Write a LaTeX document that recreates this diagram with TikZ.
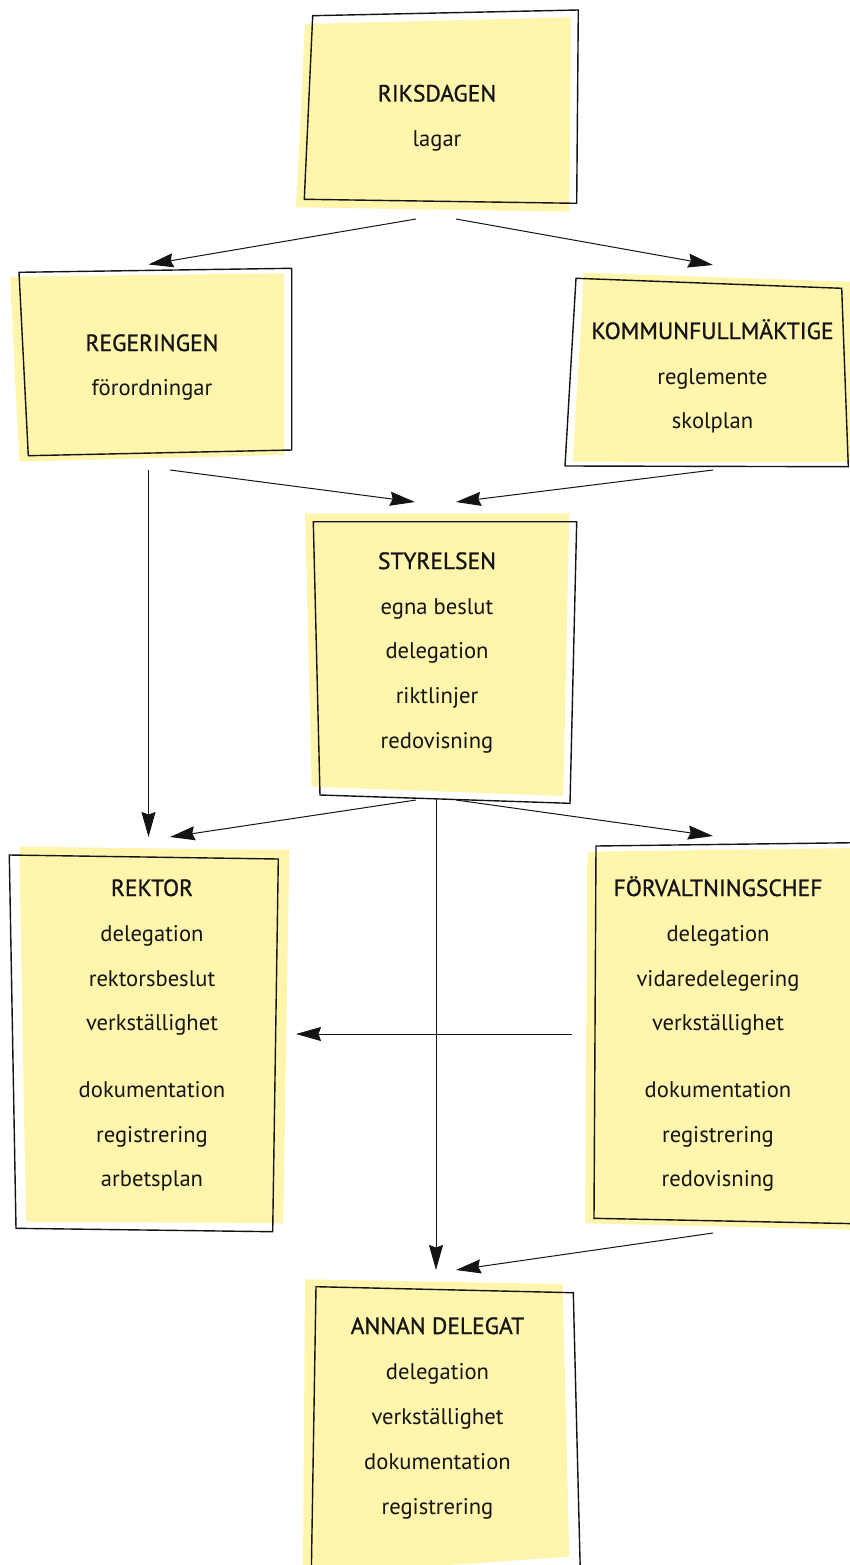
\documentclass[tikz,border=0pt]{standalone}
\usepackage{fontspec}
\setmainfont{PT Sans}
\newfontfamily\titlefont[FakeBold=1]{PT Sans}
\usetikzlibrary{arrows.meta}
\definecolor{paper}{HTML}{FFF5AD}
\definecolor{ink}{HTML}{141414}
\begin{document}
\begin{tikzpicture}[x=1pt,y=-1pt,
  sheet/.style={fill=paper,draw=none},
  frame/.style={draw=ink,line width=1.4pt,line join=miter},
  ttl/.style={anchor=base,font=\titlefont\fontsize{23.5}{28}\selectfont,text=ink,inner sep=0pt},
  txt/.style={anchor=base,font=\fontsize{22.6}{27}\selectfont,text=ink,inner sep=0pt},
  conn/.style={draw=ink,line width=1pt,-{Stealth[length=25pt,width=14pt,inset=2.5pt]}}
]
\useasboundingbox (0,0) rectangle (850,1565);
\clip (0,0) rectangle (850,1565);

% ---- sheets (yellow) ----
\fill[paper] (305,24) -- (571,17.3) -- (569.3,211.7) -- (296,207.3) -- cycle;
\fill[paper] (10,276.7) -- (284,273.3) -- (284,455) -- (19.3,461.7) -- cycle;
\fill[paper] (584,272.7) -- (860,282) -- (860,462) -- (572.7,461.7) -- cycle;
\fill[paper] (305,513.3) -- (569.3,513.3) -- (563.3,796) -- (311.7,786.7) -- cycle;
\fill[paper] (19.3,846.7) -- (289.3,850) -- (283.3,1223.3) -- (26,1221.7) -- cycle;
\fill[paper] (587.3,851.7) -- (860,848) -- (860,1230) -- (585,1223.3) -- cycle;
\fill[paper] (305,1279.3) -- (562.7,1284) -- (569.3,1556.7) -- (303,1575) -- cycle;

% ---- frames ----
\draw[frame] (312.7,15.7) -- (578.3,10) -- (576.7,203.3) -- (304.3,199.3) -- cycle;
\draw[frame] (19,272.3) -- (291.7,268.3) -- (291.7,450) -- (28.3,455.7) -- cycle;
\draw[frame] (576,278.3) -- (841.7,288.3) -- (848.3,466.7) -- (565,466) -- cycle;
\draw[frame] (313.3,521.7) -- (576.7,521.7) -- (570,803.3) -- (320,795) -- cycle;
\draw[frame] (9.3,855) -- (278.3,859) -- (272.7,1231.7) -- (16,1228.3) -- cycle;
\draw[frame] (870,842.5) -- (596,846) -- (594,1218.3) -- (870,1224);
\draw[frame] (311.2,1580) -- (316,1286.7) -- (573.3,1292.7) -- (580.5,1580);

% ---- texts ----
\node[ttl] (rik) at (437,101.5) {RIKSDAGEN};
\node[txt] (rik1) at (437,146.5) {lagar};

\node[ttl] (reg) at (152,351) {REGERINGEN};
\node[txt] (reg1) at (152,395) {förordningar};

\node[ttl] (kom) at (712.5,339) {KOMMUNFULLMÄKTIGE};
\node[txt] (kom1) at (712.5,384) {reglemente};
\node[txt] (kom2) at (712.5,428.5) {skolplan};

\node[ttl] (sty) at (437,569) {STYRELSEN};
\node[txt] (sty1) at (437,614) {egna beslut};
\node[txt] (sty2) at (437,658) {delegation};
\node[txt] (sty3) at (437,703) {riktlinjer};
\node[txt] (sty4) at (437,748) {redovisning};

\node[ttl] (rek) at (152,896) {REKTOR};
\node[txt] (rek1) at (152,941) {delegation};
\node[txt] (rek2) at (152,986) {rektorsbeslut};
\node[txt] (rek3) at (152,1030) {verkställighet};
\node[txt] (rek4) at (152,1097) {dokumentation};
\node[txt] (rek5) at (152,1142) {registrering};
\node[txt] (rek6) at (152,1186) {arbetsplan};

\node[ttl] (for) at (718,896) {FÖRVALTNINGSCHEF};
\node[txt] (for1) at (718,941) {delegation};
\node[txt] (for2) at (718,986) {vidaredelegering};
\node[txt] (for3) at (718,1030) {verkställighet};
\node[txt] (for4) at (718,1097) {dokumentation};
\node[txt] (for5) at (718,1142) {registrering};
\node[txt] (for6) at (718,1186) {redovisning};

\node[ttl] (ann) at (437.5,1334) {ANNAN DELEGAT};
\node[txt] (ann1) at (437.5,1379) {delegation};
\node[txt] (ann2) at (437.5,1424) {verkställighet};
\node[txt] (ann3) at (437.5,1469) {dokumentation};
\node[txt] (ann4) at (437.5,1514) {registrering};

% ---- connector end points ----
\coordinate (rikL) at (416,219);
\coordinate (rikR) at (456,219);
\coordinate (regIn) at (148.5,264.5);
\coordinate (komIn) at (713,265);
\coordinate (regDown) at (148.5,470);
\coordinate (regOut) at (170,470);
\coordinate (komOut) at (713,470);
\coordinate (styInL) at (415,502);
\coordinate (styInR) at (456,502);
\coordinate (styL) at (416,800);
\coordinate (styM) at (436,800);
\coordinate (styR) at (456,800);
\coordinate (rekIn) at (148.5,837);
\coordinate (rekInR) at (170,837);
\coordinate (forIn) at (713,836);
\coordinate (forOut) at (572,1034);
\coordinate (rekSide) at (296,1034);
\coordinate (forLow) at (713,1233);
\coordinate (annIn) at (436,1270);
\coordinate (annInR) at (456,1270);

% ---- connectors ----
\draw[conn] (rikL) -- (regIn);
\draw[conn] (rikR) -- (komIn);
\draw[conn] (regDown) -- (rekIn);
\draw[conn] (regOut) -- (styInL);
\draw[conn] (komOut) -- (styInR);
\draw[conn] (styL) -- (rekInR);
\draw[conn] (styR) -- (forIn);
\draw[conn] (styM) -- (annIn);
\draw[conn] (forLow) -- (annInR);
\draw[conn] (forOut) -- (rekSide);
\end{tikzpicture}
\end{document}
